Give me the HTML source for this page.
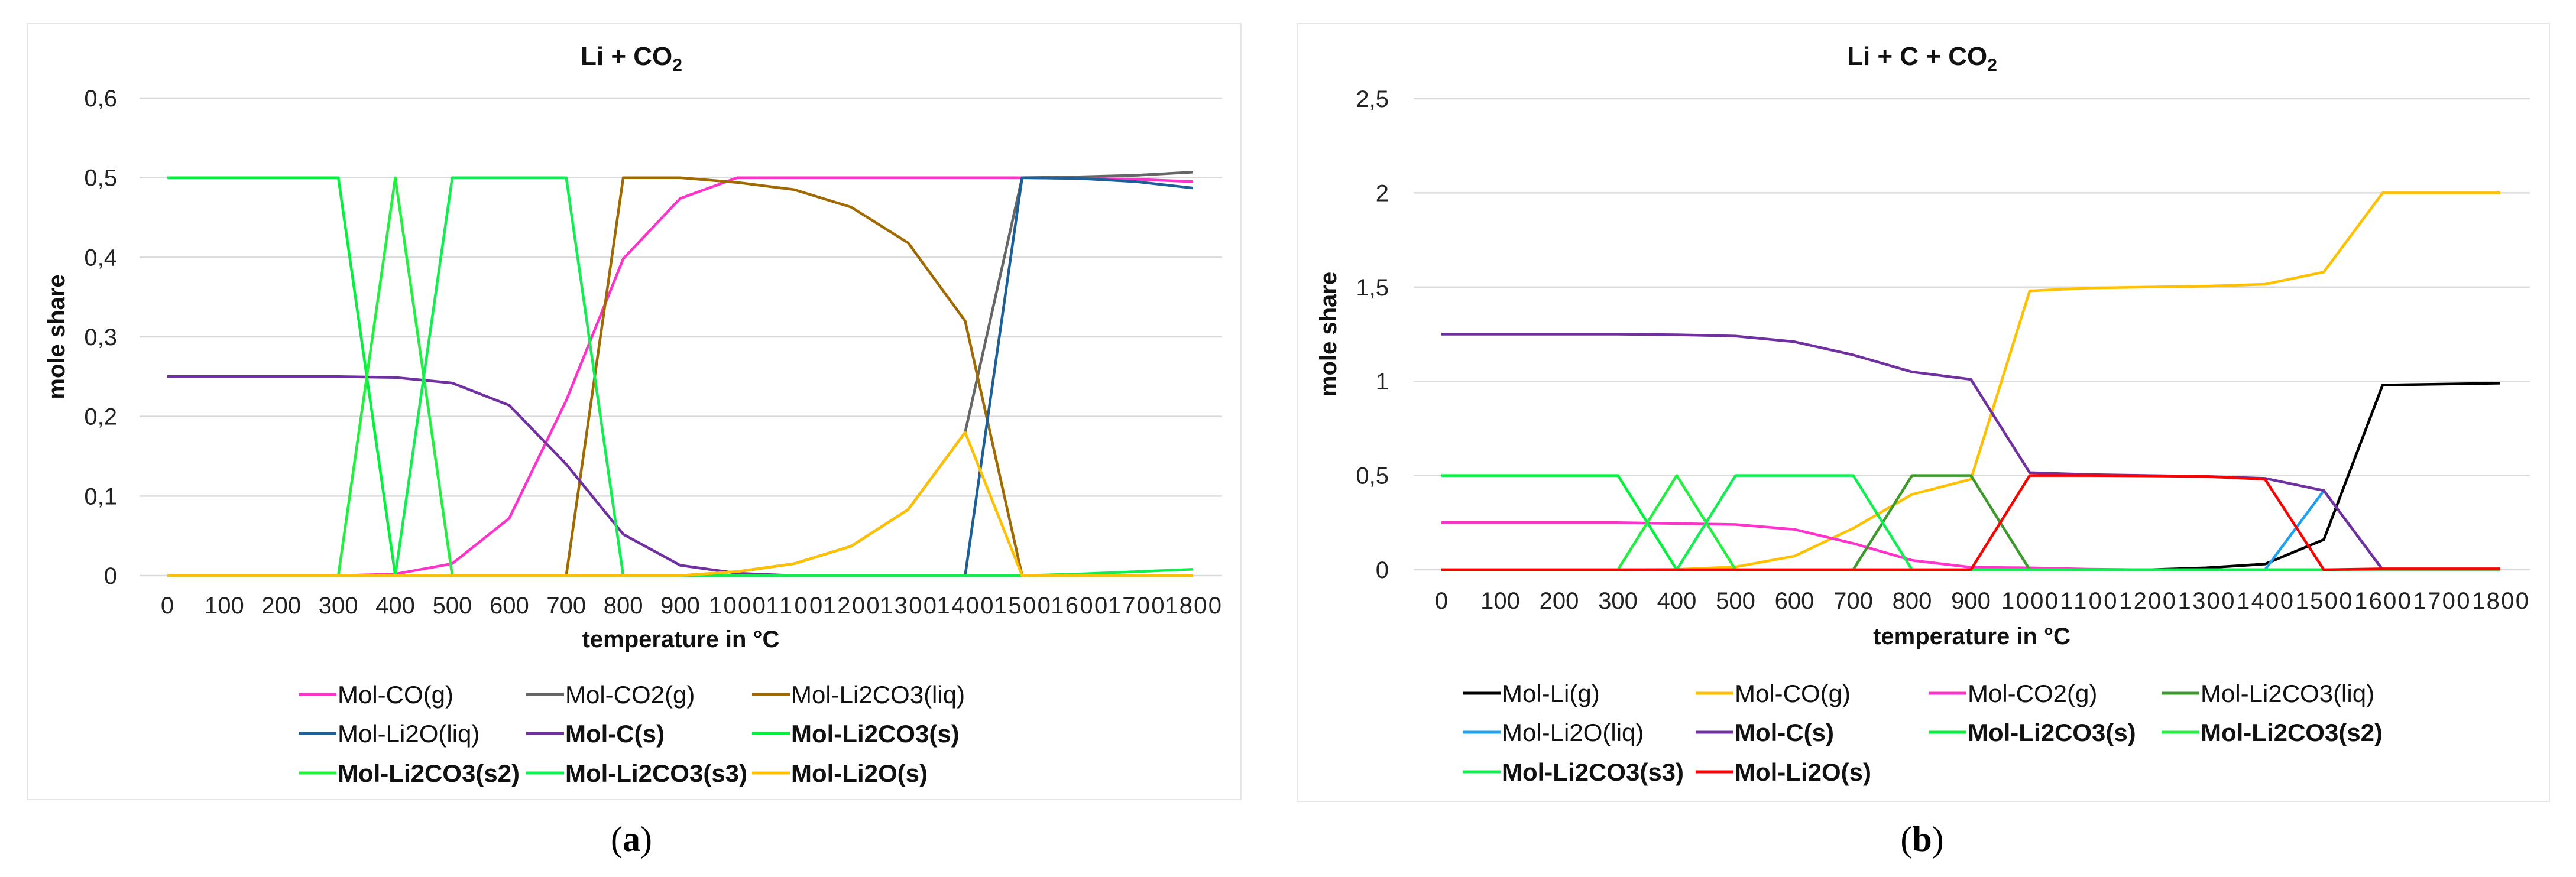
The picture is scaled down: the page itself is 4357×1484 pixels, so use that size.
<!DOCTYPE html>
<html><head><meta charset="utf-8"><style>
html,body{margin:0;padding:0;background:#fff;}
svg{display:block;font-family:"Liberation Sans",Arial,sans-serif;}
</style></head><body>
<svg id="fig" width="4357" height="1484" viewBox="0 0 4357 1484" xmlns="http://www.w3.org/2000/svg"></svg>
<script>
const temps = [0,100,200,300,400,500,600,700,800,900,1000,1100,1200,1300,1400,1500,1600,1700,1800];
// Chart A series
const aCO = [0,0,0,0,0.002,0.015,0.072,0.22,0.398,0.474,0.5,0.5,0.5,0.5,0.5,0.5,0.499,0.498,0.495];
const aCO2 = [0,0,0,0,0,0,0,0,0,0,0.005,0.015,0.037,0.083,0.18,0.5,0.501,0.503,0.507];
const aLi2CO3liq = [0,0,0,0,0,0,0,0,0.5,0.5,0.494,0.485,0.463,0.418,0.32,0,0,0,0];
const aLi2Oliq = [0,0,0,0,0,0,0,0,0,0,0,0,0,0,0,0.5,0.499,0.495,0.487];
const aC = [0.25,0.25,0.25,0.25,0.249,0.242,0.214,0.14,0.052,0.013,0.003,0,0,0,0,0,0,0,0];
const aLi2CO3s = [0.5,0.5,0.5,0.5,0,0,0,0,0,0,0,0,0,0,0,0,0,0,0];
const aLi2CO3s2 = [0,0,0,0,0.5,0,0,0,0,0,0,0,0,0,0,0,0,0,0];
const aLi2CO3s3 = [0,0,0,0,0,0.5,0.5,0.5,0,0,0,0,0,0,0,0,0.002,0.005,0.008];
const aLi2Os = [0,0,0,0,0,0,0,0,0,0,0.005,0.015,0.037,0.083,0.18,0,0,0,0];
const aTicks = ["0","0,1","0,2","0,3","0,4","0,5","0,6"];
const aTickVals = [0,0.1,0.2,0.3,0.4,0.5,0.6];
// Chart B series
const bLi = [0,0,0,0,0,0,0,0,0,0,0,0,0,0.01,0.03,0.16,0.98,0.985,0.99];
const bCO = [0,0,0,0,0.002,0.015,0.072,0.22,0.4,0.48,1.48,1.495,1.5,1.505,1.515,1.58,2.0,2.0,2.0];
const bCO2 = [0.25,0.25,0.25,0.25,0.245,0.24,0.214,0.14,0.05,0.013,0.01,0.003,0,0,0,0,0,0,0];
const bLi2CO3liq = [0,0,0,0,0,0,0,0,0.5,0.5,0,0,0,0,0,0,0,0,0];
const bLi2Oliq = [0,0,0,0,0,0,0,0,0,0,0,0,0,0,0,0.42,0,0,0];
const bC = [1.25,1.25,1.25,1.25,1.247,1.24,1.21,1.14,1.05,1.01,0.515,0.505,0.5,0.495,0.485,0.42,0,0,0];
const bLi2CO3s = [0.5,0.5,0.5,0.5,0,0,0,0,0,0,0,0,0,0,0,0,0,0,0];
const bLi2CO3s2 = [0,0,0,0,0.5,0,0,0,0,0,0,0,0,0,0,0,0,0,0];
const bLi2CO3s3 = [0,0,0,0,0,0.5,0.5,0.5,0,0,0,0,0,0,0,0,0,0,0];
const bLi2Os = [0,0,0,0,0,0,0,0,0,0,0.5,0.5,0.498,0.495,0.48,0,0.005,0.005,0.005];
const bTicks = ["0","0,5","1","1,5","2","2,5"];
const bTickVals = [0,0.5,1,1.5,2,2.5];

const NS="http://www.w3.org/2000/svg";
const svg=document.getElementById('fig');
function mk(tag,attrs,parent,text){const e=document.createElementNS(NS,tag);for(const k in attrs)e.setAttribute(k,attrs[k]);if(text!==undefined)e.textContent=text;(parent||svg).appendChild(e);return e;}

function chart(cfg){
  const g=mk('g',{});
  
  
  const bd=mk('rect',{x:cfg.box[0],y:cfg.box[1],width:cfg.box[2],height:cfg.box[3],fill:'#fff',stroke:'#e6e6e6','stroke-width':2},g);
  
  
  const xs=v=>cfg.x0+(v-temps[0])/(temps[temps.length-1]-temps[0])*(cfg.x1-cfg.x0);
  const ys=v=>cfg.y0-(v/cfg.ymax)*(cfg.y0-cfg.ytop);
  cfg.tickVals.forEach((v,i)=>{
    const gl=mk('line',{x1:cfg.gx0,x2:cfg.gx1,y1:ys(v),y2:ys(v),stroke:'#d9d9d9','stroke-width':2.5},g);
    
    
    const t=mk('text',{x:cfg.ylx,y:ys(v)+14,'text-anchor':'end','font-size':40,fill:'#222'},g,cfg.ticks[i]);
    
    
  });
  temps.forEach(v=>{
    const t=mk('text',{x:xs(v),y:cfg.xly+14,'text-anchor':'middle','font-size':40,fill:'#222'},g,String(v));
    if(String(v).length>3)t.setAttribute('textLength','96');
    
    
  });
  const tt=mk('text',{x:cfg.tx,y:cfg.ty+15,'text-anchor':'middle','font-size':44,'font-weight':'bold',fill:'#111'},g);
  
  
  tt.innerHTML=cfg.title+'<tspan font-size="30" dy="10">2</tspan>';
  const xt=mk('text',{x:(cfg.gx0+cfg.gx1)/2,y:cfg.xty+14,'text-anchor':'middle','font-size':40,'font-weight':'bold',fill:'#111'},g,'temperature in °C');
  
  
  const yt=mk('text',{x:0,y:0,transform:`translate(${cfg.ytx+14},${cfg.y0-(cfg.y0-cfg.ytop)/2}) rotate(-90)`,'text-anchor':'middle','font-size':40,'font-weight':'bold',fill:'#111'},g,'mole share');
  
  
  cfg.series.forEach(s=>{
    const pts=s.data.map((v,i)=>xs(temps[i]).toFixed(1)+','+ys(v).toFixed(1)).join(' ');
    const pl=mk('polyline',{points:pts,fill:'none',stroke:s.color,'stroke-width':4.5,'stroke-linejoin':'round'},g);
    
    
  });
  cfg.series.forEach((s,i)=>{
    const r=Math.floor(i/cfg.cols), c=i%cfg.cols;
    const lx=cfg.legX[c], ly=cfg.legY[r];
    const lg=mk('g',{},g);
    
    
    mk('line',{x1:lx,x2:lx+64,y1:ly,y2:ly,stroke:s.color,'stroke-width':5},lg);
    mk('text',{x:lx+66,y:ly+15,'font-size':42,'font-weight':s.bold?'bold':'normal',fill:'#111'},lg,s.label);
  });
  const cap=mk('text',{x:cfg.tx,y:1440,'text-anchor':'middle','font-size':60,'font-family':'"Liberation Serif",serif',fill:'#000'},g);
  cap.innerHTML=cfg.cap;
  
  
}

chart({name:'chart-a',box:[46,40,2053,1313],x0:283,x1:2018,y0:974,ytop:166,ymax:0.6,gx0:236,gx1:2067,
  ticks:aTicks,tickVals:aTickVals,ylx:198,xly:1024,tx:1068,ty:95,title:'Li + CO',xty:1081,ytx:95,
  cols:3,legX:[505,890,1272],legY:[1175,1241,1308],cap:'(<tspan font-weight="bold">a</tspan>)',
  series:[
    {key:'co-g',label:'Mol-CO(g)',color:'#ff33cc',data:aCO},
    {key:'co2-g',label:'Mol-CO2(g)',color:'#666666',data:aCO2},
    {key:'li2co3-liq',label:'Mol-Li2CO3(liq)',color:'#a06a00',data:aLi2CO3liq},
    {key:'li2o-liq',label:'Mol-Li2O(liq)',color:'#1d5f98',data:aLi2Oliq},
    {key:'c-s',label:'Mol-C(s)',color:'#7030a0',data:aC,bold:true},
    {key:'li2co3-s',label:'Mol-Li2CO3(s)',color:'#00f23a',data:aLi2CO3s,bold:true},
    {key:'li2co3-s2',label:'Mol-Li2CO3(s2)',color:'#22f040',data:aLi2CO3s2,bold:true},
    {key:'li2co3-s3',label:'Mol-Li2CO3(s3)',color:'#11ee50',data:aLi2CO3s3,bold:true},
    {key:'li2o-s',label:'Mol-Li2O(s)',color:'#ffc000',data:aLi2Os,bold:true}
  ]});

chart({name:'chart-b',box:[2194,40,2118,1316],x0:2438,x1:4229,y0:964,ytop:167,ymax:2.5,gx0:2391,gx1:4279,
  ticks:bTicks,tickVals:bTickVals,ylx:2349,xly:1016,tx:3251,ty:95,title:'Li + C + CO',xty:1076,ytx:2246,
  cols:4,legX:[2474,2868,3262,3656],legY:[1173,1239,1306],cap:'(<tspan font-weight="bold">b</tspan>)',
  series:[
    {key:'li-g',label:'Mol-Li(g)',color:'#000000',data:bLi},
    {key:'co-g',label:'Mol-CO(g)',color:'#ffc000',data:bCO},
    {key:'co2-g',label:'Mol-CO2(g)',color:'#ff33cc',data:bCO2},
    {key:'li2co3-liq',label:'Mol-Li2CO3(liq)',color:'#3c9a2c',data:bLi2CO3liq},
    {key:'li2o-liq',label:'Mol-Li2O(liq)',color:'#1ea0f0',data:bLi2Oliq},
    {key:'c-s',label:'Mol-C(s)',color:'#7030a0',data:bC,bold:true},
    {key:'li2co3-s',label:'Mol-Li2CO3(s)',color:'#00f23a',data:bLi2CO3s,bold:true},
    {key:'li2co3-s2',label:'Mol-Li2CO3(s2)',color:'#22f040',data:bLi2CO3s2,bold:true},
    {key:'li2co3-s3',label:'Mol-Li2CO3(s3)',color:'#11ee50',data:bLi2CO3s3,bold:true},
    {key:'li2o-s',label:'Mol-Li2O(s)',color:'#ff0000',data:bLi2Os,bold:true}
  ]});
</script>
</body></html>
